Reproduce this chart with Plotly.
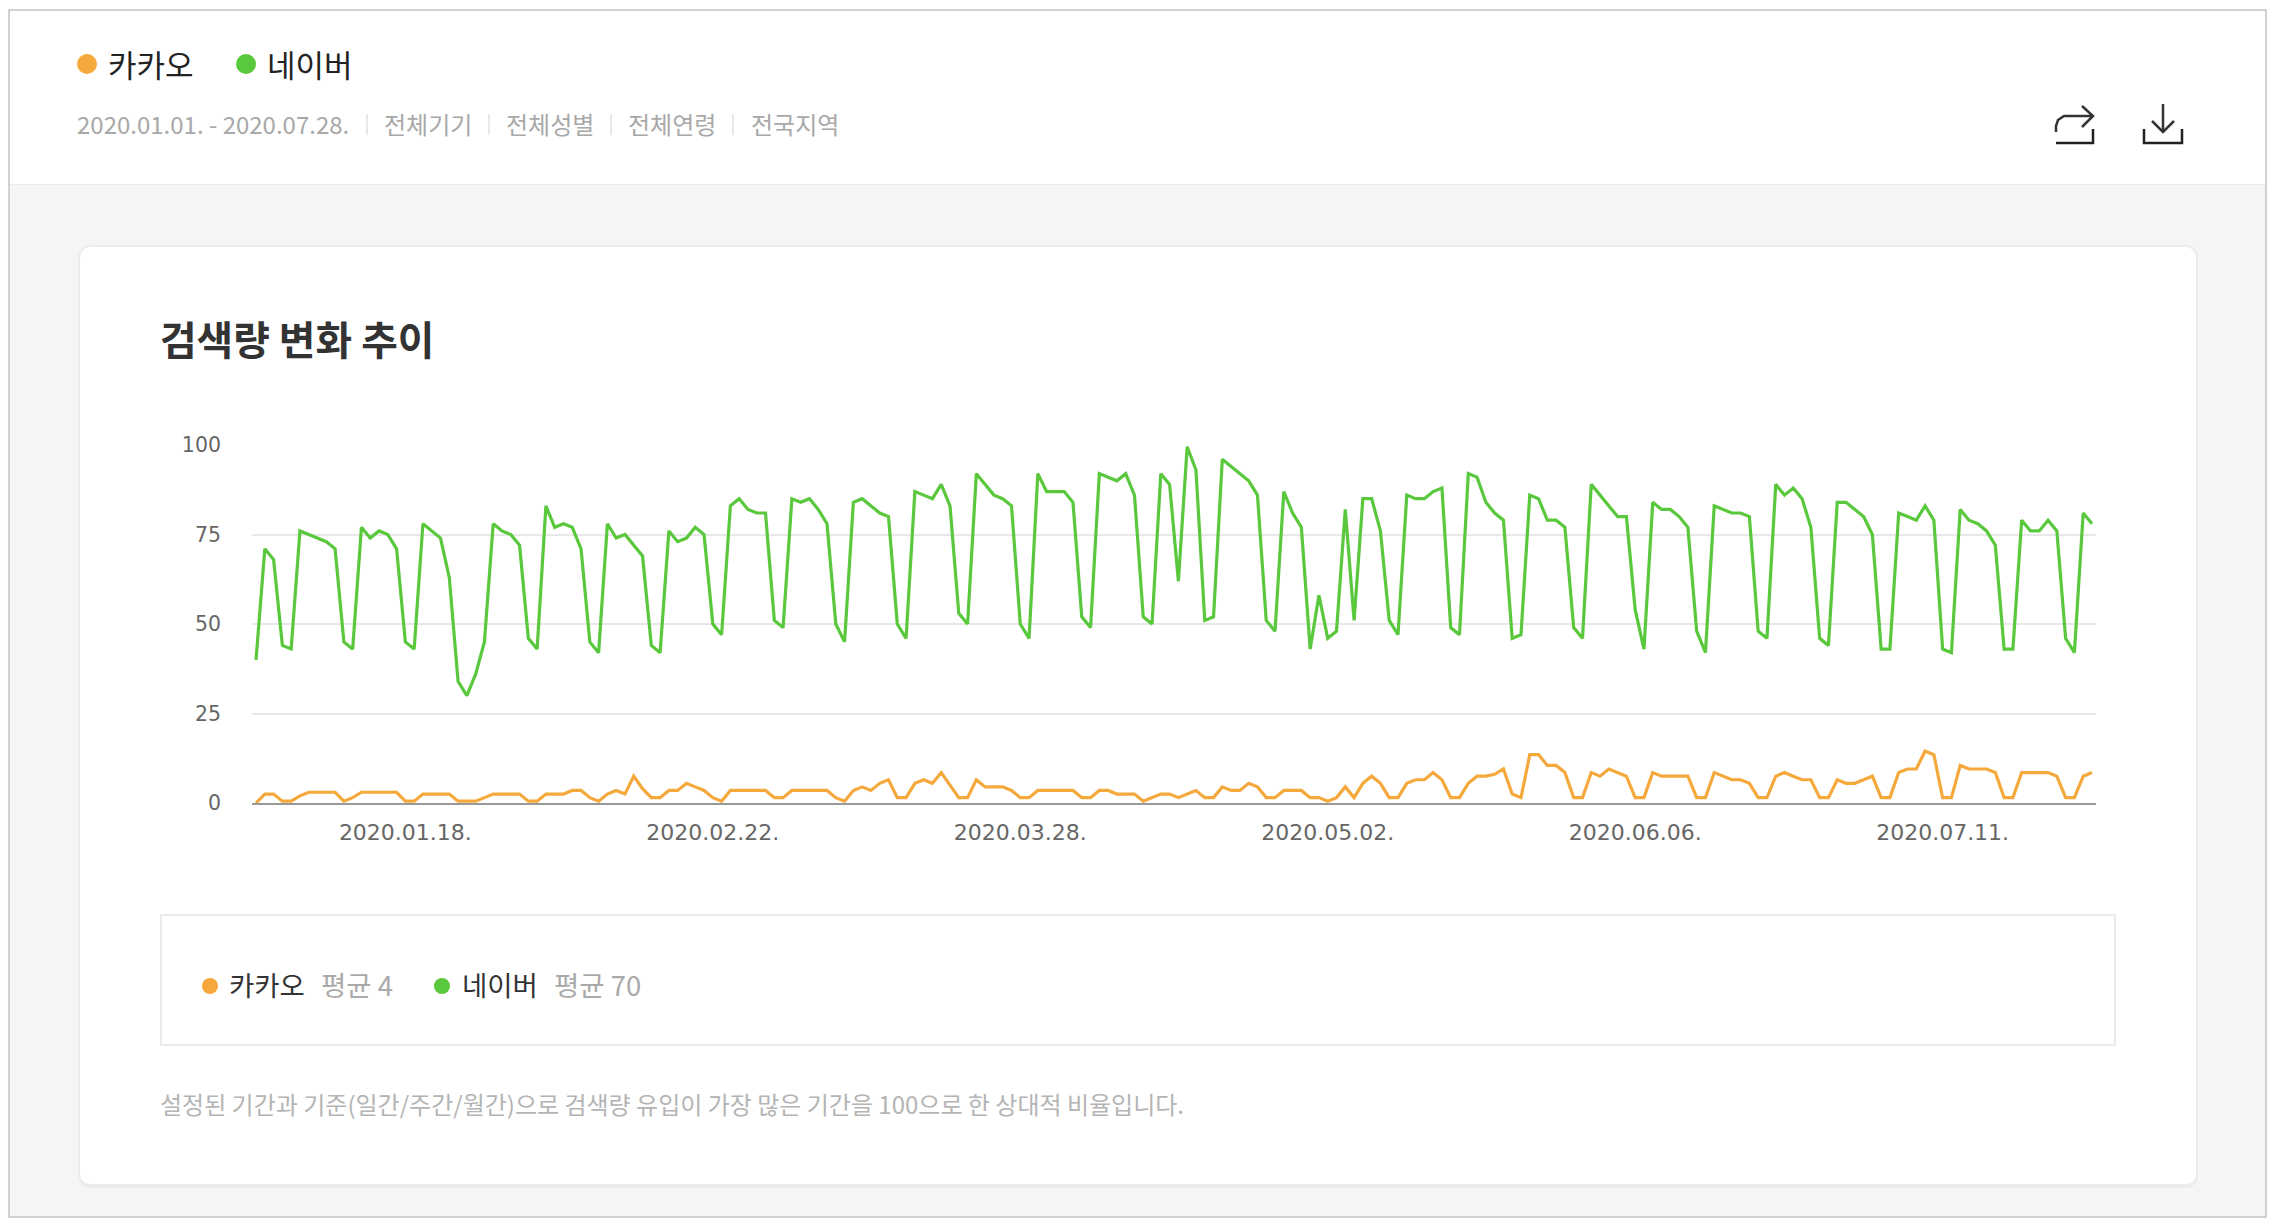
import pandas as pd
import plotly.graph_objects as go

W = 2276
H = 1226

dates = pd.date_range('2020-01-01', '2020-07-28')

naver = [
    40, 71, 68, 44, 43, 76, 75, 74, 73, 71, 45, 43, 77, 74, 76, 75, 71, 45, 43, 78, 76, 74, 63, 34, 30, 36, 45, 78, 76, 75, 72,
    46, 43, 83, 77, 78, 77, 71, 45, 42, 78, 74, 75, 72, 69, 44, 42, 76, 73, 74, 77, 75, 50, 47, 83, 85, 82, 81, 81, 51,
    49, 85, 84, 85, 82, 78, 50, 45, 84, 85, 83, 81, 80, 50, 46, 87, 86, 85, 89, 83, 53, 50, 92, 89, 86, 85, 83, 50, 46, 92, 87,
    87, 87, 84, 52, 49, 92, 91, 90, 92, 86, 52, 50, 92, 89, 62, 99.5, 93, 51, 52, 96, 94, 92, 90, 86, 51, 48, 87, 81, 77, 43,
    58, 46, 48, 82, 51, 85, 85, 76, 51, 47, 86, 85, 85, 87, 88, 49, 47, 92, 91, 84, 81, 79, 46, 47, 86, 85, 79, 79, 77, 49, 46,
    89, 86, 83, 80, 80, 54, 43, 84, 82, 82, 80, 77, 48, 42, 83, 82, 81, 81, 80, 48, 46, 89, 86, 88, 85, 77, 46, 44, 84, 84,
    82, 80, 75, 43, 43, 81, 80, 79, 83, 79, 43, 42, 82, 79, 78, 76, 72, 43, 43, 79, 76, 76, 79, 76, 46, 42, 81, 78,
]
kakao = [
    0, 2.5, 2.5, 0.5, 0.5, 2, 3, 3, 3, 3, 0.5, 1.5, 3, 3, 3, 3, 3, 0.5, 0.5, 2.5, 2.5, 2.5, 2.5, 0.5, 0.5, 0.5, 1.5, 2.5, 2.5, 2.5, 2.5,
    0.5, 0.5, 2.5, 2.5, 2.5, 3.5, 3.5, 1.5, 0.5, 2.5, 3.5, 2.5, 7.5, 4, 1.5, 1.5, 3.5, 3.5, 5.5, 4.5, 3.5, 1.5, 0.5, 3.5, 3.5, 3.5, 3.5, 3.5, 1.5,
    1.5, 3.5, 3.5, 3.5, 3.5, 3.5, 1.5, 0.5, 3.5, 4.5, 3.5, 5.5, 6.5, 1.5, 1.5, 5.5, 6.5, 5.5, 8.5, 5, 1.5, 1.5, 6.5, 4.5, 4.5, 4.5, 3.5, 1.5, 1.5, 3.5, 3.5,
    3.5, 3.5, 3.5, 1.5, 1.5, 3.5, 3.5, 2.5, 2.5, 2.5, 0.5, 1.5, 2.5, 2.5, 1.5, 2.5, 3.5, 1.5, 1.5, 4.5, 3.5, 3.5, 5.5, 4.5, 1.5, 1.5, 3.5, 3.5, 3.5, 1.5,
    1.5, 0.5, 1.5, 4.5, 1.5, 5.5, 7.5, 5.5, 1.5, 1.5, 5.5, 6.5, 6.5, 8.5, 6.5, 1.5, 1.5, 5.5, 7.5, 7.5, 8, 9.5, 2.5, 1.5, 13.5, 13.5, 10.5, 10.5, 8.5, 1.5, 1.5,
    8.5, 7.5, 9.5, 8.5, 7.5, 1.5, 1.5, 8.5, 7.5, 7.5, 7.5, 7.5, 1.5, 1.5, 8.5, 7.5, 6.5, 6.5, 5.5, 1.5, 1.5, 7.5, 8.5, 7.5, 6.5, 6.5, 1.5, 1.5, 6.5, 5.5,
    5.5, 6.5, 7.5, 1.5, 1.5, 8.5, 9.5, 9.5, 14.5, 13.5, 1.5, 1.5, 10.5, 9.5, 9.5, 9.5, 8.5, 1.5, 1.5, 8.5, 8.5, 8.5, 8.5, 7.5, 1.5, 1.5, 7.5, 8.5,
]
tick_dates = ['2020-01-18', '2020-02-22', '2020-03-28', '2020-05-02', '2020-06-06', '2020-07-11']
tick_labels = ['2020.01.18.', '2020.02.22.', '2020.03.28.', '2020.05.02.', '2020.06.06.', '2020.07.11.']
y_ticks = [0, 25, 50, 75, 100]

orange = '#f5a93c'
green = '#5ac83c'
font_kr = 'Noto Sans CJK KR'


def px(x):
    return x / W


def py(y):
    return 1 - y / H


def box(x0, y0, x1, y1, fill, line=None, width=1):
    return dict(type='rect', xref='paper', yref='paper', layer='below',
                x0=px(x0), y0=py(y0), x1=px(x1), y1=py(y1), fillcolor=fill,
                line=dict(color=line, width=width if line else 0))


def rounded(x0, y0, x1, y1, r, fill, line=None, width=1):
    a, b, c, d = px(x0), px(x1), py(y0), py(y1)
    rx, ry = px(r), r / H
    path = (f'M{a + rx},{c} L{b - rx},{c} Q{b},{c} {b},{c - ry} L{b},{d + ry} Q{b},{d} {b - rx},{d} '
            f'L{a + rx},{d} Q{a},{d} {a},{d + ry} L{a},{c - ry} Q{a},{c} {a + rx},{c} Z')
    return dict(type='path', xref='paper', yref='paper', layer='below', path=path, fillcolor=fill,
                line=dict(color=line, width=width if line else 0))


def dot(cx, cy, r, color):
    return dict(type='circle', xref='paper', yref='paper', layer='above',
                x0=px(cx - r), x1=px(cx + r), y0=py(cy + r), y1=py(cy - r),
                fillcolor=color, line=dict(width=0))


def stroke(points, color='#333333', width=2.5):
    path = 'M' + ' L'.join(f'{px(x)},{py(y)}' for x, y in points)
    return dict(type='path', xref='paper', yref='paper', layer='above', path=path,
                line=dict(color=color, width=width))


def label(x, y, text, size, color, anchor='left', weight=None):
    return dict(xref='paper', yref='paper', x=px(x), y=py(y), text=text, showarrow=False,
                xanchor=anchor, yanchor='middle', borderpad=0,
                font=dict(family=font_kr, size=size, color=color, weight=weight))


shapes = [
    # page frame, header and card
    box(9, 10, 2266, 1217, '#f5f5f5', '#c4c4c4', 1.5),
    box(10, 11, 2265, 184, '#ffffff'),
    box(10, 184, 2265, 185, '#ececec'),
    rounded(78, 245, 2198, 1188, 14, '#ececec'),
    rounded(80, 247, 2196, 1184, 12, '#ffffff'),
    box(161, 915, 2115, 1045, '#ffffff', '#e4e4e4', 1.5),
    dot(87, 64, 10, orange),
    dot(246, 64, 10, green),
    dot(210, 986, 8, orange),
    dot(442, 986, 8, green),
]
for x in [367, 489, 611, 733]:
    shapes.append(stroke([(x, 114), (x, 135)], '#e2e2e2', 1.5))

# share icon
shapes.append(stroke([(2056, 132), (2056, 126), (2058, 120), (2064, 116), (2092, 116)], '#333333'))
shapes.append(stroke([(2082, 106), (2093, 116), (2082, 127)], '#333333'))
shapes.append(stroke([(2056, 143), (2093, 143), (2093, 129)], '#222222'))
# download icon
shapes.append(stroke([(2163, 104), (2163, 131)], '#333333'))
shapes.append(stroke([(2152, 121), (2163, 132), (2174, 121)], '#333333'))
shapes.append(stroke([(2144, 129), (2144, 143), (2182, 143), (2182, 129)], '#222222'))

annotations = [
    label(107, 63, '카카오', 31, '#222222'),
    label(266, 63, '네이버', 31, '#222222'),
    label(76, 123, '2020.01.01. - 2020.07.28.', 24, '#a8a8a8'),
    label(383, 123, '전체기기', 24, '#a8a8a8'),
    label(505, 123, '전체성별', 24, '#a8a8a8'),
    label(627, 123, '전체연령', 24, '#a8a8a8'),
    label(750, 123, '전국지역', 24, '#a8a8a8'),
    label(159, 337, '검색량 변화 추이', 39.8, '#333333', weight=700),
    label(228, 984, '카카오', 27.5, '#333333'),
    label(320, 984, '평균 4', 27.5, '#aaaaaa'),
    label(461, 984, '네이버', 27.5, '#333333'),
    label(553, 984, '평균 70', 27.5, '#aaaaaa'),
    label(159, 1103, '설정된 기간과 기준(일간/주간/월간)으로 검색량 유입이 가장 많은 기간을 100으로 한 상대적 비율입니다.', 24, '#b4b4b4'),
]

fig = go.Figure()
fig.add_trace(go.Scatter(x=dates, y=kakao, mode='lines', name='카카오', line=dict(color=orange, width=3.2)))
fig.add_trace(go.Scatter(x=dates, y=naver, mode='lines', name='네이버', line=dict(color=green, width=3.2)))

fig.update_layout(
    width=W, height=H,
    margin=dict(l=0, r=0, t=0, b=0, autoexpand=False),
    paper_bgcolor='#ffffff',
    plot_bgcolor='rgba(0,0,0,0)',
    showlegend=False,
    shapes=shapes,
    annotations=annotations,
    xaxis=dict(
        domain=[px(252), px(2096)],
        range=['2019-12-31 13:00', '2020-07-28 11:00'],
        tickvals=tick_dates, ticktext=tick_labels,
        showgrid=False, showline=True, linecolor='#999999', linewidth=1.5,
        ticks='', ticklabelstandoff=9,
        tickfont=dict(family='DejaVu Sans', size=22, color='#666666'),
    ),
    yaxis=dict(
        domain=[py(803), py(445)],
        range=[0, 100],
        tickvals=y_ticks,
        showgrid=True, gridcolor='#e8e8e8', gridwidth=1.5, zeroline=False,
        ticks='', ticklabelstandoff=30,
        tickfont=dict(family='DejaVu Sans', size=20.5, color='#666666'),
    ),
)

fig.write_html('out.html', config=dict(displayModeBar=False),
               post_script="document.body.style.margin='0';document.body.style.overflow='hidden';")
